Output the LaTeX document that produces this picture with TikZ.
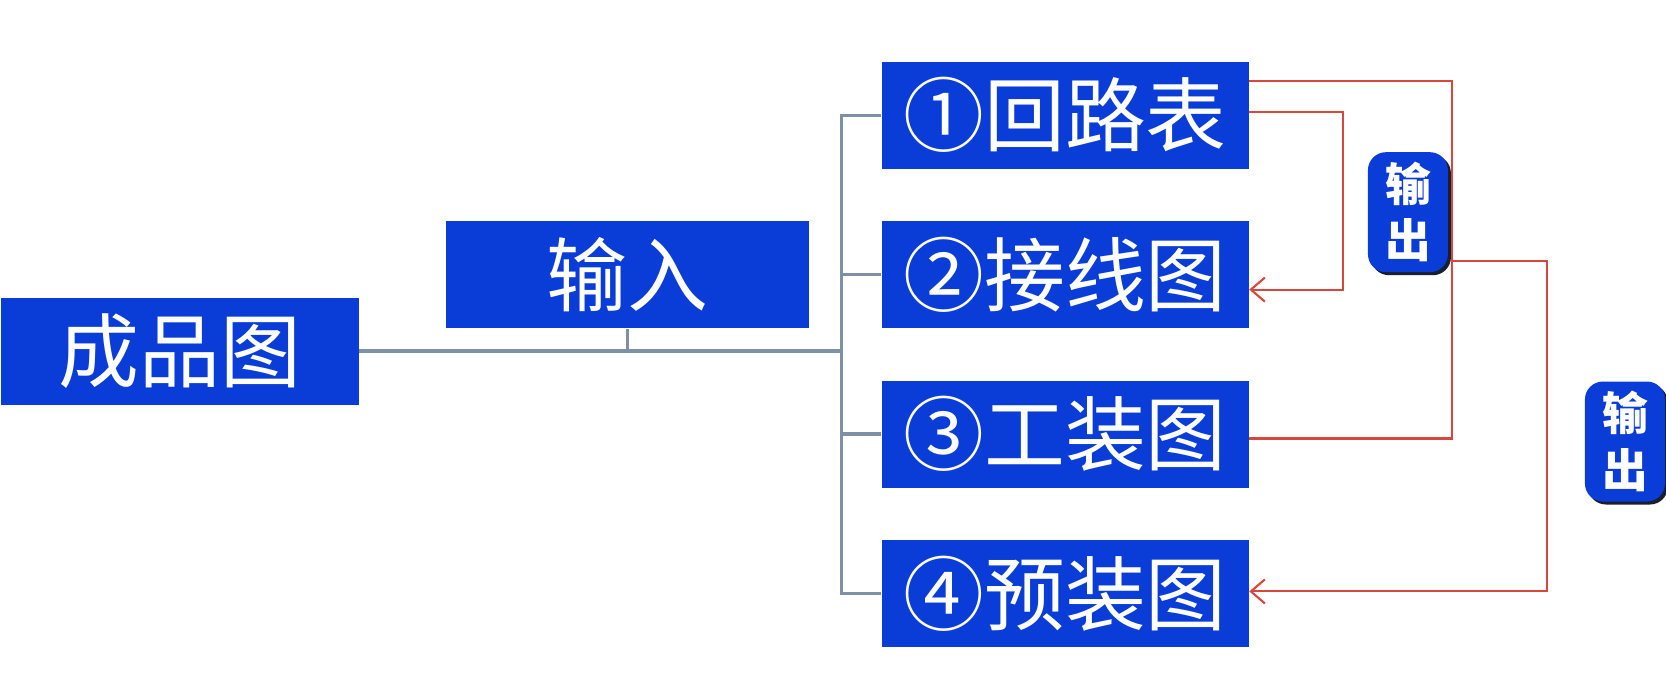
\documentclass[tikz,border=0pt]{standalone}
\usepackage{fontspec}
\newfontfamily\cjk{Noto Sans CJK SC}
\usetikzlibrary{arrows.meta,positioning,calc,shadows}
\definecolor{boxblue}{HTML}{0A3CD7}
\definecolor{treeline}{HTML}{7D90A5}
\definecolor{outred}{HTML}{D8473C}
\definecolor{shade}{HTML}{1A1F2E}
\tikzset{
  box/.style={fill=boxblue,text=white,inner sep=0pt,minimum height=10.7mm,align=center,font=\cjk\fontsize{23}{26}\selectfont},
  part/.style={box,minimum width=36.7mm},
  outbox/.style={fill=boxblue,text=white,rounded corners=1.8mm,inner sep=0pt,minimum width=8mm,minimum height=12mm,align=center,
    font=\cjk\bfseries\fontsize{13}{16}\selectfont,drop shadow={shadow xshift=.3mm,shadow yshift=-.3mm,fill=shade,opacity=1}},
  tree/.style={draw=treeline,line width=.9pt},
  rl/.style={draw=outred,line width=.6pt},
  ra/.style={rl,-{Straight Barb[length=1.4mm,width=2.4mm]}},
}
\begin{document}
\begin{tikzpicture}[node distance=5.1mm]
  \useasboundingbox (0,0) rectangle (166.6mm,68.6mm);
  \node[box,minimum width=35.8mm,anchor=west] (cp) at (0,33.5mm) {成品图};
  \node[box,minimum width=36.3mm,above right=-3.2mm and 8.6mm of cp] (in) {输入};

  \node[part,right=7.1mm of in] (b2) {②接线图};
  \node[part,above=of b2] (b1) {①回路表};
  \node[part,below=of b2] (b3) {③工装图};
  \node[part,below=of b3] (b4) {④预装图};

  \node[outbox,right=11.8mm of b1,yshift=-9.7mm] (out1) {输\\出};
  \node[outbox,right=33.5mm of b3,yshift=-.75mm] (out2) {输\\出};

  \path (b1.west) ++(-3.9mm,0) coordinate (trunk);
  \draw[tree] (cp.east) -- (cp.east -| trunk);
  \draw[tree] (in.south) -- (in.south |- cp.east);
  \draw[tree] (b1.west) -- (trunk) |- (b4.west);
  \draw[tree] (b2.west) -- (b2.west -| trunk);
  \draw[tree] (b3.west) -- (b3.west -| trunk);

  \path ([yshift=-2mm]b1.north east) ++(20.3mm,0) coordinate (rt);
  \coordinate (split) at ([yshift=1.2mm]rt |- out1.south);
  \draw[rl] ([yshift=-2mm]b1.north east) -- (rt) |- ([yshift=-.45mm]b3.east);
  \draw[ra] ([yshift=.3mm]b1.east) -- ++(9.4mm,0) |- ([yshift=-1.5mm]b2.east);
  \draw[ra] (split) -- ++(9.5mm,0) |- ([yshift=.2mm]b4.east);
\end{tikzpicture}
\end{document}
